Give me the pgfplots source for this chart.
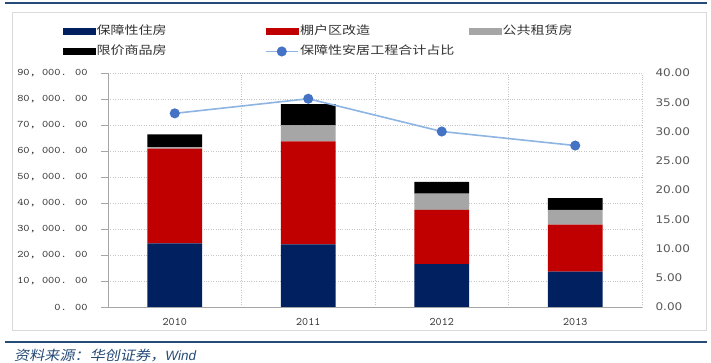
\documentclass[border=0pt]{standalone}
\usepackage{fontspec}
\usepackage{pgfplots}
\pgfplotsset{compat=1.18}
\newfontfamily\cjk[FakeStretch=1.22]{Noto Sans CJK SC}
\newfontfamily\cjksrc[FakeSlant=0.2,FakeStretch=1.12]{Noto Sans CJK SC}
\newfontfamily\srclat{Liberation Sans}
\newfontfamily\ticksfont[FakeStretch=1.18]{lmmono10-regular.otf}
\newfontfamily\xfont{lmmono10-regular.otf}
\newfontfamily\rfont[FakeStretch=1.15]{DejaVu Sans}
\definecolor{navy}{RGB}{0,32,96}
\definecolor{barred}{RGB}{192,0,0}
\definecolor{bargray}{RGB}{166,166,166}
\definecolor{lineblue}{RGB}{141,180,226}
\definecolor{markblue}{RGB}{68,114,196}
\definecolor{ruleblue}{RGB}{38,75,120}
\definecolor{axisgray}{RGB}{166,166,166}
\definecolor{boxgray}{RGB}{217,217,217}
\definecolor{labeldark}{RGB}{51,51,51}
\definecolor{labelgray}{RGB}{89,89,89}
\begin{document}
\begin{tikzpicture}
\useasboundingbox (0bp,0bp) rectangle (711bp,363bp);
\fill[white] (0bp,0bp) rectangle (711bp,363bp);
% frame and rules
\draw[ruleblue, line width=2.5bp] (5bp,360bp) -- (707bp,360bp);
\draw[boxgray, line width=1bp] (12bp,32bp) rectangle (706bp,350bp);
\draw[ruleblue, line width=2bp] (5bp,21bp) -- (707bp,21bp);
\node[anchor=west, inner sep=0pt, text=ruleblue] at (14bp,7bp)
  {\fontsize{13.5bp}{15bp}\cjksrc 资料来源：华创证券，\srclat\itshape\fontsize{13.5bp}{15bp}\selectfont Wind};

\begin{axis}[
  at={(108bp,56bp)}, anchor=south west,
  scale only axis, width=534bp, height=234bp,
  ybar stacked, bar width=0.41,
  xmin=-0.5, xmax=3.5, ymin=0, ymax=90000,
  scaled y ticks=false,
  axis x line*=bottom, axis y line*=left,
  axis line style={axisgray, line width=1bp},
  xtick={0,1,2,3}, xticklabels={2010,2011,2012,2013},
  minor xtick={-0.5,0.5,1.5,2.5,3.5},
  xtick style={draw=none},
  minor x tick style={axisgray, line width=0.8bp},
  ytick={0,10000,...,90000},
  yticklabels={{0. 00},{10, 000. 00},{20, 000. 00},{30, 000. 00},{40, 000. 00},{50, 000. 00},{60, 000. 00},{70, 000. 00},{80, 000. 00},{90, 000. 00}},
  ytick style={axisgray, line width=0.8bp},
  tick align=outside, major tick length=7bp, minor tick length=4bp,
  ymajorgrids, xminorgrids,
  major grid style={dotted, gray!45, line width=0.7bp},
  minor grid style={dotted, gray!45, line width=0.7bp},
  yticklabel style={font=\fontsize{10bp}{11bp}\ticksfont, text=labeldark, xshift=-10bp},
  xticklabel style={font=\fontsize{11.5bp}{12bp}\xfont, text=labeldark, yshift=-1bp},
]
\addplot[fill=navy, draw=none] coordinates {(0,24500) (1,24100) (2,16500) (3,13600)};
\addplot[fill=barred, draw=none] coordinates {(0,36400) (1,39600) (2,20900) (3,18100)};
\addplot[fill=bargray, draw=none] coordinates {(0,600) (1,6200) (2,6200) (3,5700)};
\addplot[fill=black, draw=none] coordinates {(0,4900) (1,8100) (2,4500) (3,4500)};
\end{axis}

\begin{axis}[
  at={(108bp,56bp)}, anchor=south west,
  scale only axis, width=534bp, height=234bp,
  xmin=-0.5, xmax=3.5, ymin=0, ymax=40,
  axis x line=none,
  axis y line*=right,
  y axis line style={draw=none},
  ytick={0,5,...,40},
  yticklabels={0.00,5.00,10.00,15.00,20.00,25.00,30.00,35.00,40.00},
  major tick length=0pt,
  yticklabel style={font=\fontsize{10.5bp}{12bp}\rfont, text=labelgray, xshift=10bp},
  legend columns=3,
  legend cell align=left,
  legend style={at={(axis description cs:-0.085,1.2085)}, anchor=north west,
    draw=none, fill=none, inner sep=0pt, outer sep=0pt,
    row sep=7bp, column sep=0pt,
    nodes={inner sep=1.5bp, text height=8.5bp, text depth=2bp, font=\fontsize{11.5bp}{13bp}\cjk, text=labeldark}},
]
\addlegendimage{legend image code/.code={\fill[navy] (0bp,-3bp) rectangle (32bp,3bp);}}
\addlegendentry{\makebox[167bp][l]{保障性住房}}
\addlegendimage{legend image code/.code={\fill[barred] (0bp,-3bp) rectangle (32bp,3bp);}}
\addlegendentry{\makebox[167bp][l]{棚户区改造}}
\addlegendimage{legend image code/.code={\fill[bargray] (0bp,-3bp) rectangle (32bp,3bp);}}
\addlegendentry{\makebox[167bp][l]{公共租赁房}}
\addlegendimage{legend image code/.code={\fill[black] (0bp,-3bp) rectangle (32bp,3bp);}}
\addlegendentry{\makebox[167bp][l]{限价商品房}}
\addplot[color=lineblue, line width=1.6bp, mark=*, mark size=4.2bp,
  mark options={fill=markblue, draw=markblue},
  legend image code/.code={\draw[lineblue, line width=1.6bp] (0bp,0bp) -- (32bp,0bp);
    \draw[lineblue, mark=*, mark size=4.2bp, mark options={fill=markblue, draw=markblue}] plot coordinates {(16bp,0bp)};}]
  coordinates {(0,33.1) (1,35.6) (2,30.0) (3,27.6)};
\addlegendentry{保障性安居工程合计占比}
\end{axis}
\end{tikzpicture}
\end{document}
